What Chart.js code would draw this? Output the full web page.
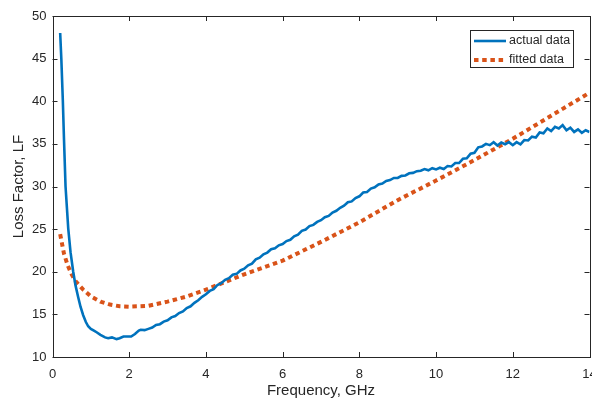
<!DOCTYPE html>
<html>
<head>
<meta charset="utf-8">
<script src="https://cdn.jsdelivr.net/npm/chart.js@4.4.1/dist/chart.umd.min.js"></script>
<style>
html, body { margin: 0; padding: 0; background: #fff; }
#wrap { width: 592px; height: 400px; }
</style>
</head>
<body>
<div id="wrap"><canvas id="lf"></canvas></div>
<script>
// values
const actualFreq = [0.2, 0.23, 0.27, 0.3, 0.34, 0.41, 0.47, 0.54, 0.6, 0.67, 0.73, 0.8, 0.87, 0.93, 1.0, 1.08, 1.15, 1.25, 1.37, 1.45, 1.55, 1.67, 1.75, 1.85, 1.95,
  2.05, 2.15, 2.25, 2.3, 2.4, 2.5, 2.6, 2.7, 2.8, 2.9, 3.0, 3.1, 3.2, 3.3, 3.4, 3.5, 3.6, 3.7, 3.8, 3.9,
  4.0, 4.1, 4.2, 4.3, 4.4, 4.5, 4.6, 4.7, 4.8, 4.9, 5.0, 5.1, 5.2, 5.3, 5.4, 5.5, 5.6, 5.7, 5.8, 5.9,
  6.0, 6.1, 6.2, 6.3, 6.4, 6.5, 6.6, 6.7, 6.8, 6.9, 7.0, 7.1, 7.2, 7.3, 7.4, 7.5, 7.6, 7.7, 7.8, 7.9,
  8.0, 8.1, 8.2, 8.3, 8.4, 8.5, 8.6, 8.7, 8.8, 8.9, 9.0, 9.1, 9.2, 9.3, 9.4, 9.5, 9.6, 9.7, 9.8, 9.9,
  10.0, 10.1, 10.2, 10.3, 10.4, 10.5, 10.6, 10.7, 10.8, 10.9, 11.0, 11.1, 11.2, 11.3, 11.4, 11.5, 11.6, 11.7, 11.8, 11.9,
  12.0, 12.1, 12.2, 12.3, 12.4, 12.5, 12.6, 12.7, 12.8, 12.9, 13.0, 13.1, 13.2, 13.3, 13.4, 13.5, 13.6, 13.7, 13.8, 13.9, 14.0];
const actualLF = [48.0, 45.0, 40.0, 35.5, 30.0, 25.1, 22.3, 20.0, 18.4, 17.0, 15.9, 14.9, 14.1, 13.6, 13.3, 13.1, 12.9, 12.6, 12.3, 12.2, 12.3, 12.1, 12.2, 12.4, 12.4,
  12.4, 12.7, 13.1, 13.2, 13.15, 13.3, 13.45, 13.75, 13.85, 14.15, 14.3, 14.65, 14.8, 15.15, 15.35, 15.75, 15.95, 16.35, 16.65, 17.05,
  17.35, 17.75, 17.95, 18.45, 18.65, 19.05, 19.25, 19.65, 19.75, 20.15, 20.35, 20.75, 20.95, 21.45, 21.65, 22.05, 22.25, 22.65, 22.75, 23.1,
  23.25, 23.6, 23.75, 24.15, 24.35, 24.8, 24.95, 25.35, 25.5, 25.85, 26.05, 26.4, 26.55, 26.95, 27.15, 27.5, 27.75, 28.15, 28.25, 28.65,
  28.85, 29.3, 29.35, 29.75, 29.9, 30.25, 30.35, 30.65, 30.75, 31.0, 31.0, 31.25, 31.3, 31.55, 31.6, 31.8, 31.85, 32.05, 31.9, 32.15,
  32.0, 32.2, 32.05, 32.4, 32.35, 32.75, 32.75, 33.25, 33.3, 33.85, 33.95, 34.6, 34.7, 35.0, 34.85, 35.2, 34.8, 35.15, 34.95, 35.2,
  34.85, 35.2, 34.95, 35.45, 35.4, 35.85, 35.75, 36.35, 36.25, 36.8, 36.5, 37.0, 36.8, 37.2, 36.6, 36.9, 36.4, 36.7, 36.3, 36.6, 36.4];

const fittedFreq = [0.2, 0.3, 0.4, 0.5, 0.6, 0.8, 1.0, 1.25, 1.5, 1.75, 2.0, 2.5, 3.0, 3.5, 4.0, 4.5, 5.0, 5.5, 6.0, 7.0, 8.0, 9.0, 10.0, 11.0, 12.0, 13.0, 14.0];
const fittedLF = [24.4, 22.1, 20.7, 19.7, 18.9, 17.9, 17.1, 16.5, 16.15, 15.95, 15.9, 16.0, 16.5, 17.1, 17.9, 18.8, 19.7, 20.5, 21.3, 23.5, 25.8, 28.4, 30.7, 33.1, 35.6, 38.3, 41.0];

const seriesNames = ['actual data', 'fitted data'];
const xTicks = [0, 2, 4, 6, 8, 10, 12, 14];
const yTicks = [10, 15, 20, 25, 30, 35, 40, 45, 50];

const axisColor = '#262626';
const fontFamily = '"Liberation Sans", Arial, sans-serif';

function toPoints(xs, ys) {
  return xs.map((x, i) => ({ x: x, y: ys[i] }));
}

// MATLAB style box with ticks pointing inwards
const boxPlugin = {
  id: 'boxPlugin',
  afterDatasetsDraw(chart) {
    const { ctx, chartArea: a, scales } = chart;
    ctx.save();
    ctx.strokeStyle = axisColor;
    ctx.lineWidth = 1;
    ctx.beginPath();
    xTicks.forEach(v => {
      const px = Math.round(scales.x.getPixelForValue(v)) + 0.5;
      ctx.moveTo(px, a.bottom); ctx.lineTo(px, a.bottom - 5);
      ctx.moveTo(px, a.top); ctx.lineTo(px, a.top + 5);
    });
    yTicks.forEach(v => {
      const py = Math.round(scales.y.getPixelForValue(v)) + 0.5;
      ctx.moveTo(a.left, py); ctx.lineTo(a.left + 5, py);
      ctx.moveTo(a.right, py); ctx.lineTo(a.right - 5, py);
    });
    ctx.stroke();
    ctx.strokeRect(Math.round(a.left) + 0.5, Math.round(a.top) + 0.5,
      Math.round(a.right - a.left), Math.round(a.bottom - a.top));
    ctx.restore();
  }
};

const legendPlugin = {
  id: 'legendPlugin',
  afterDraw(chart) {
    const ctx = chart.ctx;
    const sets = chart.data.datasets;
    ctx.save();
    ctx.fillStyle = '#fff';
    ctx.fillRect(470.5, 30.5, 103, 37);
    ctx.strokeStyle = axisColor;
    ctx.lineWidth = 1;
    ctx.strokeRect(470.5, 30.5, 103, 37);
    ctx.font = '12.5px ' + fontFamily;
    ctx.textBaseline = 'middle';
    ctx.textAlign = 'left';
    sets.forEach((ds, i) => {
      const y = 41 + i * 19;
      ctx.beginPath();
      ctx.strokeStyle = ds.borderColor;
      ctx.lineWidth = ds.borderWidth;
      ctx.lineCap = 'butt';
      ctx.setLineDash(ds.borderDash || []);
      ctx.moveTo(474, y);
      ctx.lineTo(506, y);
      ctx.stroke();
      ctx.setLineDash([]);
      ctx.fillStyle = axisColor;
      ctx.fillText(ds.label, 509, y);
    });
    ctx.restore();
  }
};

new Chart(document.getElementById('lf'), {
  type: 'line',
  data: {
    datasets: [
      {
        label: seriesNames[0],
        data: toPoints(actualFreq, actualLF),
        borderColor: '#0072BD',
        borderWidth: 2.6,
        pointRadius: 0,
        tension: 0
      },
      {
        label: seriesNames[1],
        data: toPoints(fittedFreq, fittedLF),
        borderColor: '#D95319',
        borderWidth: 4,
        borderDash: [4.5, 3.7],
        borderCapStyle: 'butt',
        pointRadius: 0,
        tension: 0
      }
    ]
  },
  options: {
    responsive: true,
    maintainAspectRatio: false,
    animation: false,
    layout: { padding: { left: 0, right: 2.5, top: 16, bottom: 0 } },
    plugins: {
      legend: { display: false },
      tooltip: { enabled: false }
    },
    scales: {
      x: {
        type: 'linear',
        min: 0,
        max: 14,
        afterBuildTicks: s => { s.ticks = xTicks.map(v => ({ value: v })); },
        grid: { display: false, drawTicks: false },
        border: { display: false },
        ticks: { color: axisColor, padding: 10, maxRotation: 0, font: { family: fontFamily, size: 13 } },
        title: { display: true, text: 'Frequency, GHz', color: axisColor, padding: 0, font: { family: fontFamily, size: 15 } },
        afterFit: s => { s.height = 43; s.paddingLeft = 0; s.paddingRight = 0; }
      },
      y: {
        min: 10,
        max: 50,
        afterBuildTicks: s => { s.ticks = yTicks.map(v => ({ value: v })); },
        grid: { display: false, drawTicks: false },
        border: { display: false },
        ticks: { color: axisColor, padding: 6, font: { family: fontFamily, size: 13 } },
        title: { display: true, text: 'Loss Factor, LF', color: axisColor, padding: { top: 10, bottom: 0 }, font: { family: fontFamily, size: 15 } },
        afterFit: s => { s.width = 52.5; s.paddingTop = 0; s.paddingBottom = 0; }
      }
    }
  },
  plugins: [boxPlugin, legendPlugin]
});
</script>
</body>
</html>
